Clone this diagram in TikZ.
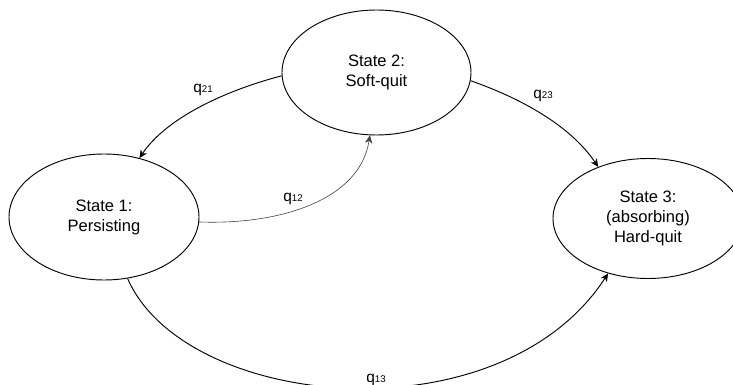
\documentclass[tikz,border=0pt]{standalone}
\usepackage{fontspec}
\setmainfont{Liberation Sans}
\usetikzlibrary{arrows.meta,shapes.geometric}
\tikzset{
  state/.style={ellipse, draw, line width=0.7pt, inner sep=0pt, align=center,
    font=\fontsize{12.4}{15}\selectfont},
  conn/.style={line width=0.7pt, -{Stealth[length=6pt,width=5.5pt,inset=1.8pt]}},
  connlight/.style={conn, line width=0.45pt, draw=black!75},
  lab/.style={anchor=base west, inner sep=0pt, font=\fontsize{11.6}{14}\selectfont},
}
\newcommand{\qsub}[1]{q{\fontsize{7.3}{8}\selectfont #1}}
\begin{document}
\begin{tikzpicture}[x=0.75pt,y=-0.75pt]
\useasboundingbox (0,0) rectangle (733,385);
\clip (0,0) rectangle (733,385);
\node[state, minimum width=142.5pt, minimum height=94.5pt] (s1) at (104,217) {State 1:\\Persisting};
\node[state, minimum width=141.75pt, minimum height=93.75pt] (s2) at (376.5,72.5) {State 2:\\Soft-quit};
\node[state, minimum width=142.5pt, minimum height=90pt] (s3) at (648,218.5) {State 3:\\(absorbing)\\Hard-quit};

\draw[conn] (s2.182) .. controls (220,92) and (165,120) .. (s1.59.7);
\draw[connlight] (s1.-3) .. controls (280,225) and (360,200) .. (s2.264);
\draw[conn] (s2.-5.1) .. controls (520,98) and (570,125) .. (s3.134);
\draw[conn] (s1.-69) .. controls (185,410) and (500,440) .. (s3.-126.8);

\node[lab] (l21) at (193,93) {\qsub{21}};
\node[lab] (l12) at (283,202) {\qsub{12}};
\node[lab] (l23) at (533,99) {\qsub{23}};
\node[lab] (l13) at (366,382) {\qsub{13}};
\end{tikzpicture}
\end{document}
